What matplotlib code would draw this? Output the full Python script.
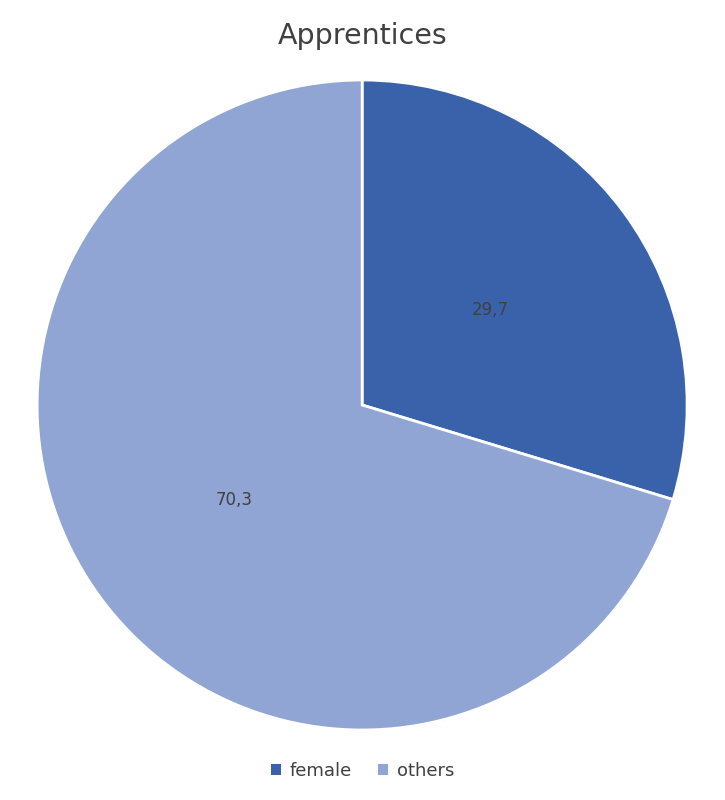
import matplotlib.pyplot as plt
from matplotlib.patches import Patch

categories = ['female', 'others']
values = [29.7, 70.3]
colors = ['#3A62AA', '#90A5D4']

fig = plt.figure(figsize=(7.25, 8), dpi=100)
ax = fig.add_axes([0.051, 0.0875, 0.897, 0.8125])

wedges, texts = ax.pie(values, colors=colors, startangle=90, counterclock=False,
                       labels=[f'{v:.1f}'.replace('.', ',') for v in values],
                       labeldistance=0.49,
                       wedgeprops=dict(edgecolor='white', linewidth=2))
for t in texts:
    t.set_fontsize(12)
    t.set_color('#404040')
    t.set_ha('center')
    t.set_va('center')
ax.set_aspect('equal')
ax.set_xlim(-1, 1)
ax.set_ylim(-1, 1)

fig.text(0.5, 0.955, 'Apprentices', ha='center', va='center',
         fontsize=20.5, color='#404040')

handles = [Patch(facecolor=c, label=l) for c, l in zip(colors, categories)]
fig.legend(handles=handles, loc='center', bbox_to_anchor=(0.5, 0.036), ncol=2,
           frameon=False, fontsize=13, handlelength=0.55, handleheight=0.55,
           columnspacing=1.4, handletextpad=0.5, labelcolor='#404040')

fig.savefig('out.png', dpi=100)
